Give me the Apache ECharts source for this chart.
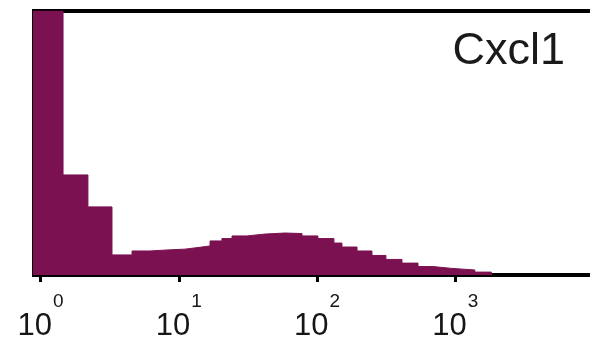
<!DOCTYPE html>
<html>
<head>
<meta charset="utf-8">
<script src="https://cdn.jsdelivr.net/npm/echarts@6/dist/echarts.min.js"></script>
<style>
html,body{margin:0;padding:0;background:#fff;}
#chart{width:590px;height:360px;}
</style>
</head>
<body>
<div id="chart"></div>
<script>
// Bin left edges in log10 units (last entry closes final bin)
var binEdges = [-0.076, 0.163, 0.343, 0.517, 0.662, 0.792, 0.922, 1.045, 1.139, 1.226, 1.312, 1.385, 1.493, 1.623, 1.768, 1.891, 2.006, 2.122, 2.180, 2.289, 2.397, 2.498, 2.614, 2.730, 2.838, 2.975, 3.141, 3.26];
// Relative counts (% of axis max) per bin
var counts = [100, 37.9, 25.8, 7.6, 9.1, 9.5, 9.8, 10.4, 11.0, 12.9, 13.8, 14.8, 15.5, 15.9, 15.7, 14.8, 13.8, 12.1, 10.6, 9.1, 7.4, 5.9, 4.5, 3.2, 2.5, 1.9, 1.1, 0];
var tickExponents = [0, 1, 2, 3];
var markerName = 'Cxcl1';

var seriesData = binEdges.map(function (e, i) { return [e, counts[i]]; });
var col = '#7b1150';

var chart = echarts.init(document.getElementById('chart'), null, {renderer: 'canvas'});
chart.setOption({
  backgroundColor: '#ffffff',
  animation: false,
  title: {
    text: markerName,
    right: 25, top: 29, padding: 0,
    textStyle: {fontFamily: 'Liberation Sans', fontSize: 45, fontWeight: 'normal', color: '#1a1a1a'}
  },
  grid: {left: 34, width: 566, top: 11, bottom: 85, outerBoundsMode: 'none', containLabel: false, show: true, borderColor: '#000', borderWidth: 4, backgroundColor: 'transparent'},
  xAxis: {
    type: 'value', min: -0.047, max: 4.046,
    splitLine: {show: false},
    axisLine: {show: true, onZero: false, lineStyle: {color: '#000', width: 4}},
    axisTick: {show: true, customValues: tickExponents, length: 7, inside: false, lineStyle: {color: '#000', width: 3}},
    axisLabel: {
      show: true, customValues: tickExponents, margin: 13,
      formatter: function (v) { return '{b|10}{s|' + v + '}'; },
      rich: {
        b: {fontFamily: 'Liberation Sans', fontSize: 31, color: '#161616', verticalAlign: 'bottom', lineHeight: 54},
        s: {fontFamily: 'Liberation Sans', fontSize: 19, color: '#161616', verticalAlign: 'top', lineHeight: 20, padding: [4, 0, 0, 1]}
      }
    }
  },
  yAxis: {
    type: 'value', min: 0, max: 100,
    splitLine: {show: false},
    axisLine: {show: true, onZero: false, lineStyle: {color: '#000', width: 4}},
    axisTick: {show: false},
    axisLabel: {show: false}
  },
  series: [{
    type: 'line', step: 'end', data: seriesData, showSymbol: false, clip: true,
    lineStyle: {color: col, width: 1},
    areaStyle: {color: col, opacity: 1},
    z: 1
  }]
});
</script>
</body>
</html>
